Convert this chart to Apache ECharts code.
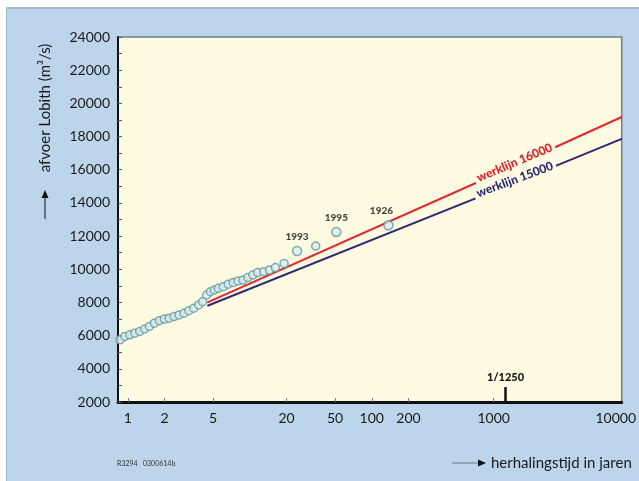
<!DOCTYPE html>
<html><head><meta charset="utf-8">
<script src="https://cdn.jsdelivr.net/npm/echarts@6/dist/echarts.min.js"></script>
<style>
html,body{margin:0;padding:0;background:#fff;}
#panel{position:absolute;left:6px;top:7px;width:633px;height:474px;background:#bcd5ea;border-top:2px solid #9dbad3;border-left:1px solid #9dbad3;box-sizing:border-box;}
#chart{position:absolute;left:0;top:0;width:639px;height:481px;}
</style></head><body>
<div id="panel"></div><div id="chart"></div>
<script>
// ---- data ----
const obsT = [0.861,0.945,1.037,1.138,1.249,1.37,1.50,1.65,1.81,1.99,2.18,2.39,2.63,2.88,3.16,3.47,3.8,4.1,
              4.42,4.76,5.12,5.52,6.05,6.64,7.29,8.0,8.78,9.63,10.6,11.6,13.0,14.5,16.2,19.1,34.7];
const obsQ = [5750,5950,6050,6150,6250,6400,6550,6750,6900,7000,7050,7150,7250,7350,7500,7650,7850,8050,
              8450,8650,8750,8850,8950,9100,9200,9300,9350,9500,9650,9800,9850,9950,10100,10350,11400];
const peakYears = ['1993','1995','1926'];
const peakT = [24.4, 51.2, 137];
const peakQ = [11100, 12250, 12650];
const lineT = [4.5, 1250, 11200];
const werklijn16000 = [8000, 16000, 19180];
const werklijn15000 = [7800, 15000, 17860];
const designT = 1250;
const designLabel = '1/1250';
const xTickLabels = [1,2,5,20,50,100,200,1000,10000];
const xTickMarks = [1,2,5,20,50,100,200,1000];
const yMin = 2000, yMax = 24000, yStep = 2000;

const FONT = 'Lato';
const chart = echarts.init(document.getElementById('chart'), null, {renderer:'canvas'});

function lineData(vals, label, color, rot){
  return lineT.map((t,i)=>({
    value:[t, vals[i]],
    label: t === designT ? {
      show:true, formatter: label, position:'inside', rotate: rot, offset:[11,-3],
      color: color, fontFamily: FONT, fontWeight:900, fontSize: 12,
      backgroundColor:'#fffbe3', padding:[1,3]
    } : {show:false}
  }));
}

const option = {
  animation:false,
  grid:{left:118, top:37, right:9, bottom:79, show:true, backgroundColor:'#fffbe3', borderColor:'#6d7d89', borderWidth:1.5},
  xAxis:{
    type:'log', logBase:10, min:0.83, max:11200,
    axisLine:{show:true, onZero:false, lineStyle:{color:'#111', width:3}},
    axisTick:{show:true, inside:true, length:4, customValues: xTickMarks, lineStyle:{color:'#777', width:1}},
    minorTick:{show:false},
    splitLine:{show:false},
    axisLabel:{customValues: xTickLabels, margin:9, color:'#1a1a1a', fontFamily:FONT, fontSize:14,
      formatter: v => String(Math.round(v)), hideOverlap:false}
  },
  yAxis:{
    type:'value', min:yMin, max:yMax, interval:yStep,
    axisLine:{show:true, lineStyle:{color:'#111', width:2}},
    axisTick:{show:true, inside:true, length:4, lineStyle:{color:'#555'}},
    minorTick:{show:true, splitNumber:2, length:4, lineStyle:{color:'#555'}},
    splitLine:{show:false},
    axisLabel:{margin:8, color:'#1a1a1a', fontFamily:FONT, fontSize:14, formatter: v => String(v)}
  },
  series:[
    {
      type:'line', name:'werklijn 16000', z:2,
      data: lineData(werklijn16000, 'werklijn 16000', '#d9222c', 23),
      symbol:'circle', symbolSize:1, showSymbol:true,
      itemStyle:{color:'#e3262f'}, lineStyle:{color:'#e3262f', width:2}
    },
    {
      type:'line', name:'werklijn 15000', z:2,
      data: lineData(werklijn15000, 'werklijn 15000', '#2b2a72', 20.5),
      symbol:'circle', symbolSize:1, showSymbol:true,
      itemStyle:{color:'#2b2a72'}, lineStyle:{color:'#2b2a72', width:2},
      markLine:{
        silent:true, symbol:['none','none'],
        lineStyle:{color:'#111', width:2.5, type:'solid'},
        label:{show:true, position:'end', formatter: designLabel, distance:4,
               color:'#111', fontFamily:FONT, fontWeight:900, fontSize:11},
        data:[[{coord:[designT, yMin]}, {coord:[designT, yMin + 900]}]]
      }
    },
    {
      type:'scatter', z:4, symbol:'circle', symbolSize:8,
      itemStyle:{color:'#d9ecef', borderColor:'#5e989c', borderWidth:1.5},
      data: obsT.map((t,i)=>[t, obsQ[i]])
    },
    {
      type:'scatter', z:4, symbol:'circle', symbolSize:9,
      itemStyle:{color:'#d9ecef', borderColor:'#5e989c', borderWidth:1.5},
      label:{show:true, position:'top', distance:4, formatter:'{b}', color:'#111',
             fontFamily:FONT, fontWeight:900, fontSize:10},
      data: peakT.map((t,i)=>({name:peakYears[i], value:[t, peakQ[i]],
             label: i===2 ? {offset:[-7,0]} : {}}))
    }
  ],
  graphic:[
    {type:'line', shape:{x1:45, y1:219, x2:45, y2:197}, style:{stroke:'#333', lineWidth:1.2}},
    {type:'polygon', shape:{points:[[41.5,198],[48.5,198],[45,190]]}, style:{fill:'#111'}},
    {type:'text', x:45, y:108, rotation:Math.PI/2,
      style:{text:'afvoer Lobith (m³/s)', fill:'#1a1a1a', font:'15px Lato', align:'center', verticalAlign:'middle'}},
    {type:'line', shape:{x1:452, y1:463, x2:478, y2:463}, style:{stroke:'#8fa8bf', lineWidth:2}},
    {type:'polygon', shape:{points:[[478,459.5],[478,466.5],[486,463]]}, style:{fill:'#111'}},
    {type:'text', x:491, y:463,
      style:{text:'herhalingstijd in jaren', fill:'#1a1a1a', font:'15px Lato', align:'left', verticalAlign:'middle'}},
    {type:'text', x:117, y:464,
      style:{text:'R3294   0300614b', fill:'#333', font:'7px Lato', align:'left', verticalAlign:'middle'}}
  ]
};
chart.setOption(option);
</script></body></html>
